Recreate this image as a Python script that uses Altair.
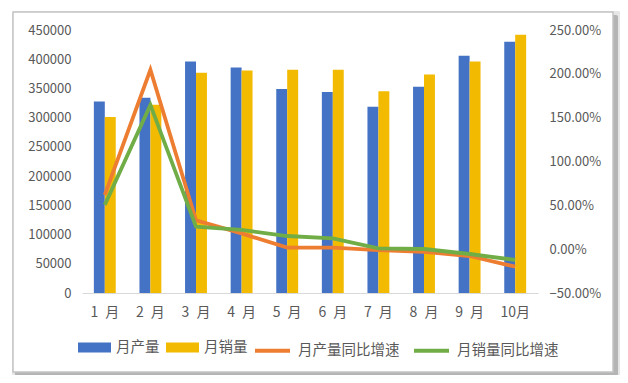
import altair as alt
import pandas as pd

months = ["1\u2002月", "2\u2002月", "3\u2002月", "4\u2002月", "5\u2002月", "6\u2002月", "7\u2002月", "8\u2002月", "9\u2002月", "10月"]
production = [327500, 334000, 396000, 386000, 349000, 344000, 318500, 353000, 406000, 430000]
sales = [301000, 322000, 377000, 380500, 382000, 382000, 345000, 374000, 396000, 442000]
prod_growth = [0.62, 2.046, 0.33, 0.18, 0.017, 0.017, -0.01, -0.03, -0.078, -0.20]
sales_growth = [0.505, 1.646, 0.257, 0.22, 0.15, 0.124, 0.01, 0.002, -0.055, -0.123]

bar_names = ["月产量", "月销量"]
line_names = ["月产量同比增速", "月销量同比增速"]

bars_df = pd.DataFrame(
    [{"month": m, "series": bar_names[0], "value": v} for m, v in zip(months, production)]
    + [{"month": m, "series": bar_names[1], "value": v} for m, v in zip(months, sales)]
)
lines_df = pd.DataFrame(
    [{"month": m, "series": line_names[0], "pct": v} for m, v in zip(months, prod_growth)]
    + [{"month": m, "series": line_names[1], "pct": v} for m, v in zip(months, sales_growth)]
)

FONT = "Noto Sans CJK SC"
GREY = "#595959"

x_scale = alt.Scale(domain=months, paddingInner=0.52, paddingOuter=0.26)
x_axis = alt.Axis(title=None, labelAngle=0, labelFontSize=14, labelColor=GREY, labelFont=FONT,
                  labelPadding=12, ticks=False, domainColor="#D9D9D9", domainWidth=1, grid=False,
                  zindex=1)

frame_df = pd.DataFrame({"k": [0]})
shadow2 = alt.Chart(frame_df).mark_rect(fill="#E6E6E6", cornerRadius=3).encode(
    x=alt.value(-70), x2=alt.value(539), y=alt.value(-19), y2=alt.value(349))
shadow = alt.Chart(frame_df).mark_rect(fill="#B4B4B4", cornerRadius=2).encode(
    x=alt.value(-67), x2=alt.value(536), y=alt.value(-15), y2=alt.value(346))
frame = alt.Chart(frame_df).mark_rect(fill="white", stroke="#C4C4C4", strokeWidth=1.5).encode(
    x=alt.value(-69), x2=alt.value(531), y=alt.value(-18), y2=alt.value(342))

bars = alt.Chart(bars_df).mark_bar().encode(
    x=alt.X("month:N", scale=x_scale, axis=x_axis, sort=months),
    xOffset=alt.XOffset("series:N", scale=alt.Scale(domain=bar_names, paddingInner=0, paddingOuter=0)),
    y=alt.Y("value:Q", scale=alt.Scale(domain=[0, 450000], nice=False),
            axis=alt.Axis(title=None, values=list(range(0, 450001, 50000)), format="d",
                          labelFontSize=13, labelColor=GREY, labelFont=FONT, labelPadding=11,
                          ticks=False, domain=False, grid=False, zindex=1)),
    color=alt.Color("series:N", scale=alt.Scale(domain=bar_names, range=["#4472C4", "#F2BA00"]),
                    legend=alt.Legend(title=None, orient="none", direction="horizontal",
                                      legendX=-4, legendY=301, symbolType="M-1,-0.3H1V0.3H-1Z",
                                      symbolSize=1089, symbolStrokeWidth=0, labelFontSize=14.5,
                                      labelFont=FONT, labelColor=GREY, labelOffset=5,
                                      columnPadding=6, symbolOpacity=1)),
)

lines = alt.Chart(lines_df).mark_line(strokeWidth=3.8).encode(
    x=alt.X("month:N", scale=x_scale, axis=x_axis, sort=months),
    y=alt.Y("pct:Q", scale=alt.Scale(domain=[-0.5, 2.5], nice=False),
            axis=alt.Axis(title=None, orient="right", values=[-0.5, 0, 0.5, 1.0, 1.5, 2.0, 2.5],
                          format=".2%", labelFontSize=13, labelColor=GREY, labelFont=FONT,
                          labelPadding=11, ticks=False, domain=False, grid=False, zindex=1)),
    color=alt.Color("series:N", scale=alt.Scale(domain=line_names, range=["#ED7D31", "#70AD47"]),
                    legend=alt.Legend(title=None, orient="none", direction="horizontal",
                                      legendX=171, legendY=301, symbolType="stroke",
                                      symbolSize=1225, symbolStrokeWidth=4, labelFontSize=14.5,
                                      labelFont=FONT, labelColor=GREY, labelOffset=6,
                                      columnPadding=6)),
)

main = alt.layer(bars, lines).resolve_scale(y="independent", color="independent")

chart = alt.layer(shadow2, shadow, frame, main).properties(
    width=456, height=263,
    autosize=alt.AutoSizeParams(type="none"),
    padding={"left": 74, "top": 22, "right": 82, "bottom": 82},
).configure_view(stroke=None).configure(background="white")

chart.save("out.html", embed_options={"renderer": "svg", "actions": False})
